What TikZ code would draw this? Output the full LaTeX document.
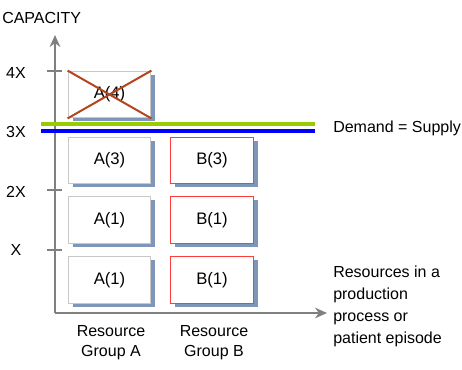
\documentclass[tikz,border=0pt]{standalone}
\usepackage{fontspec}
\setmainfont{Liberation Sans}
\usetikzlibrary{shadows,arrows.meta}
\definecolor{axisgray}{RGB}{128,128,128}
\definecolor{shadowblue}{RGB}{125,150,185}
\definecolor{demandgreen}{RGB}{153,204,0}
\definecolor{supplyblue}{RGB}{0,0,255}
\definecolor{boxred}{RGB}{255,60,60}
\definecolor{boxgray}{RGB}{200,200,200}
\definecolor{crossred}{RGB}{180,70,30}
\tikzset{
  resbox/.style={draw, line width=0.9pt, fill=white, minimum width=62pt, minimum height=35pt,
    font=\fontsize{12.5}{14}\selectfont,
    drop shadow={shadow xshift=3.5pt, shadow yshift=-2.5pt, fill=shadowblue, opacity=1}},
  aboxstyle/.style={resbox, draw=boxgray},
  bboxstyle/.style={resbox, draw=boxred},
  axis/.style={draw=axisgray, line width=1.5pt, -{Stealth[length=9pt,width=8pt]}},
  tick/.style={draw=axisgray, line width=1.2pt},
  lbl/.style={font=\fontsize{12}{15}\selectfont}
}
\begin{document}
\begin{tikzpicture}[x=0.75pt, y=-0.75pt, every node/.style={inner sep=0pt}]
\useasboundingbox (0,0) rectangle (462,369);

% axes
\coordinate (origin) at (55,313);
\coordinate (ytop) at (55,35);
\coordinate (xend) at (327,313);
\draw[axis] (origin) -- (ytop);
\draw[axis] (origin) -- (xend);

\node[lbl, anchor=west] (cap) at (2,18) {CAPACITY};

% ticks and levels
\foreach \lev/\y in {4X/71, 3X/124, 2X/190, X/250} {
  \draw[tick] (47,\y) -- (62,\y);
}
\node[lbl] (l4) at (16,73) {4X};
\node[lbl] (l3) at (16,132) {3X};
\node[lbl] (l2) at (16,192) {2X};
\node[lbl] (l1) at (16,250) {X};

% resource group A
\node[aboxstyle] (a4) at (109.5,94.5) {A(4)};
\node[aboxstyle] (a3) at (109.5,160.5) {A(3)};
\node[aboxstyle] (a2) at (109.5,220) {A(1)};
\node[aboxstyle] (a1) at (109.5,280) {A(1)};

% resource group B
\node[bboxstyle] (b3) at (212,160.5) {B(3)};
\node[bboxstyle] (b2) at (212,220) {B(1)};
\node[bboxstyle] (b1) at (212,280) {B(1)};

% A(4) is crossed out
\draw[crossred, line width=1.5pt] (a4.north west) -- (a4.south east);
\draw[crossred, line width=1.5pt] (a4.south west) -- (a4.north east);

% demand = supply
\coordinate (dl) at (41,124);
\coordinate (dr) at (315,124);
\coordinate (sl) at (41,130.5);
\coordinate (sr) at (315,130.5);
\draw[demandgreen, line width=3pt] (dl) -- (dr);
\draw[supplyblue, line width=3pt] (sl) -- (sr);
\node[lbl, anchor=west] (eq) at (333,128) {Demand = Supply};

% axis labels
\node[lbl, align=center] (ga) at (111,343) {Resource\\Group A};
\node[lbl, align=center] (gb) at (214,343) {Resource\\Group B};
\node[lbl, align=left, anchor=north west, font=\fontsize{12}{16.5}\selectfont] (res) at (333,266)
{Resources in a\\production\\process or\\patient episode};
\end{tikzpicture}
\end{document}
